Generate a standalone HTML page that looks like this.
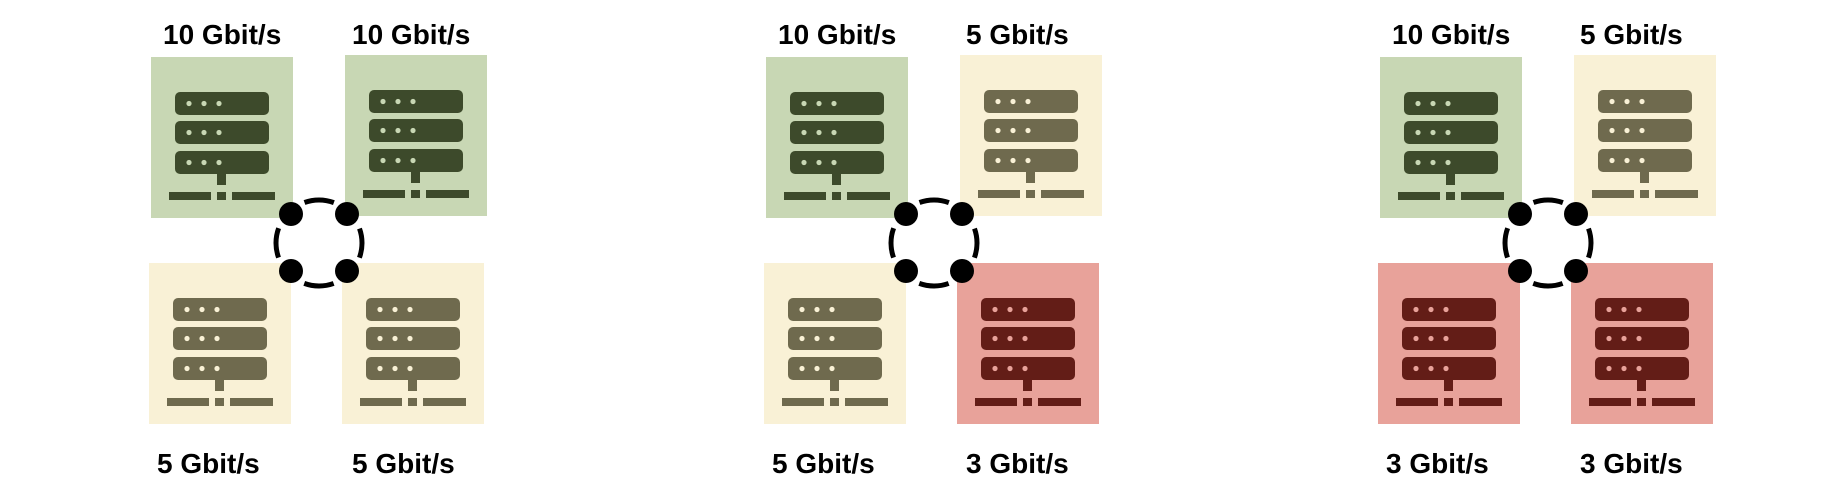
<!DOCTYPE html>
<html><head><meta charset="utf-8"><style>
html,body{margin:0;padding:0;background:#fff;}
svg{display:block;}
text{font-family:"Liberation Sans",sans-serif;font-weight:bold;font-size:28px;fill:#000;}
.g{--b:#c8d7b4;--d:#3d4a2b;--l:#c8d7b4;}
.y{--b:#f9f1d6;--d:#6f6a4e;--l:#f9f1d6;}
.r{--b:#e8a29a;--d:#631d17;--l:#e8a29a;}
</style></head><body>
<svg width="1846" height="502" viewBox="0 0 1846 502" xmlns="http://www.w3.org/2000/svg">
<defs>
<symbol id="srv" overflow="visible">
<rect x="0" y="0" width="142" height="161" style="fill:var(--b)"/>
<g style="fill:var(--d)">
<rect x="24" y="35" width="94" height="23" rx="5"/>
<rect x="24" y="64" width="94" height="23" rx="5"/>
<rect x="24" y="94" width="94" height="23" rx="5"/>
<rect x="66" y="117" width="9" height="11"/>
<rect x="18" y="135" width="42" height="8"/>
<rect x="66" y="135" width="9" height="8"/>
<rect x="81" y="135" width="43" height="8"/>
</g>
<g style="fill:var(--l)">
<circle cx="38" cy="46.5" r="2.6"/><circle cx="53" cy="46.5" r="2.6"/><circle cx="68" cy="46.5" r="2.6"/>
<circle cx="38" cy="75.5" r="2.6"/><circle cx="53" cy="75.5" r="2.6"/><circle cx="68" cy="75.5" r="2.6"/>
<circle cx="38" cy="105.5" r="2.6"/><circle cx="53" cy="105.5" r="2.6"/><circle cx="68" cy="105.5" r="2.6"/>
</g>
</symbol>
<symbol id="ring" overflow="visible">
<circle cx="319" cy="243" r="43" fill="none" stroke="#000" stroke-width="5" stroke-dasharray="30 37.5" stroke-dashoffset="15"/>
<circle cx="291" cy="214" r="12"/><circle cx="347" cy="214" r="12"/>
<circle cx="291" cy="271" r="12"/><circle cx="347" cy="271" r="12"/>
</symbol>
</defs>

<g>
<use href="#srv" x="151" y="57" class="g"/>
<use href="#srv" x="345" y="55" class="g"/>
<use href="#srv" x="149" y="263" class="y"/>
<use href="#srv" x="342" y="263" class="y"/>
<use href="#ring"/>
<text x="163" y="44">10 Gbit/s</text>
<text x="352" y="44">10 Gbit/s</text>
<text x="157" y="473">5 Gbit/s</text>
<text x="352" y="473">5 Gbit/s</text>
</g>

<g transform="translate(615,0)">
<use href="#srv" x="151" y="57" class="g"/>
<use href="#srv" x="345" y="55" class="y"/>
<use href="#srv" x="149" y="263" class="y"/>
<use href="#srv" x="342" y="263" class="r"/>
<use href="#ring"/>
<text x="163" y="44">10 Gbit/s</text>
<text x="351" y="44">5 Gbit/s</text>
<text x="157" y="473">5 Gbit/s</text>
<text x="351" y="473">3 Gbit/s</text>
</g>

<g transform="translate(1229,0)">
<use href="#srv" x="151" y="57" class="g"/>
<use href="#srv" x="345" y="55" class="y"/>
<use href="#srv" x="149" y="263" class="r"/>
<use href="#srv" x="342" y="263" class="r"/>
<use href="#ring"/>
<text x="163" y="44">10 Gbit/s</text>
<text x="351" y="44">5 Gbit/s</text>
<text x="157" y="473">3 Gbit/s</text>
<text x="351" y="473">3 Gbit/s</text>
</g>
</svg>
</body></html>
